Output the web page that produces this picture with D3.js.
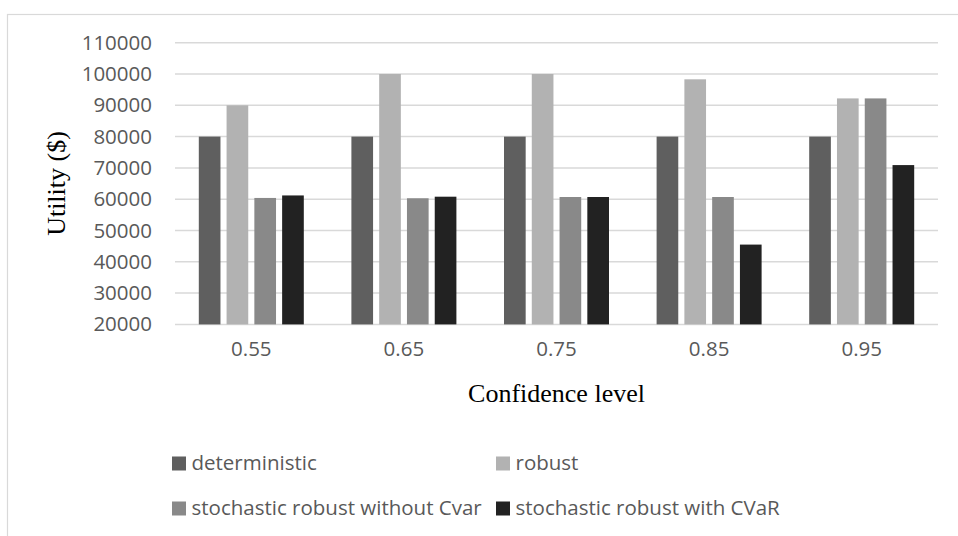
<!DOCTYPE html>
<html>
<head>
<meta charset="utf-8">
<script src="https://cdn.jsdelivr.net/npm/d3@7"></script>
<style>
  html, body { margin: 0; padding: 0; background: #fff; }
  svg { display: block; }
</style>
</head>
<body>
<div id="chart"></div>
<script>
const categories = ['0.55', '0.65', '0.75', '0.85', '0.95'];
const seriesNames = [
  'deterministic',
  'robust',
  'stochastic robust without Cvar',
  'stochastic robust with CVaR'
];
const deterministic = [80000, 80000, 80000, 80000, 80000];
const robust = [90000, 100000, 100000, 98300, 92200];
const stochNoCvar = [60400, 60300, 60700, 60700, 92200];
const stochCvar = [61200, 60800, 60700, 45500, 70900];
const yTicks = [20000, 30000, 40000, 50000, 60000, 70000, 80000, 90000, 100000, 110000];
const colors = ['#5f5f5f', '#b2b2b2', '#898989', '#222222'];

const seriesValues = [deterministic, robust, stochNoCvar, stochCvar];

const width = 958, height = 536;
const plot = { left: 175, right: 938, top: 42.7, bottom: 324.4 };

const svg = d3.select('#chart')
  .append('svg')
  .attr('width', width)
  .attr('height', height);

// outer frame
svg.append('rect')
  .attr('x', 7.5).attr('y', 14.5)
  .attr('width', 960).attr('height', 540)
  .attr('fill', 'none')
  .attr('stroke', '#d9d9d9')
  .attr('stroke-width', 1.2);

const x0 = d3.scaleBand()
  .domain(categories)
  .range([plot.left, plot.right]);

const x1 = d3.scaleBand()
  .domain(d3.range(seriesNames.length))
  .range([23.8, 23.8 + 105])
  .paddingInner(0.22);

const y = d3.scaleLinear()
  .domain([20000, 110000])
  .range([plot.bottom, plot.top]);

// gridlines
svg.append('g')
  .selectAll('line')
  .data(yTicks)
  .join('line')
  .attr('x1', plot.left).attr('x2', plot.right)
  .attr('y1', d => y(d)).attr('y2', d => y(d))
  .attr('stroke', '#d9d9d9')
  .attr('stroke-width', 1.5);

// y axis labels
const yAxis = svg.append('g')
  .attr('transform', `translate(${plot.left},0)`)
  .call(d3.axisLeft(y).tickValues(yTicks).tickSize(0).tickPadding(23).tickFormat(d3.format('d')));
yAxis.select('.domain').remove();
yAxis.selectAll('text')
  .attr('fill', '#595959')
  .style('font-family', '"Open Sans", sans-serif')
  .style('font-size', '20.5px');

// x axis labels
const xAxis = svg.append('g')
  .attr('transform', `translate(0,${plot.bottom})`)
  .call(d3.axisBottom(x0).tickSize(0).tickPadding(17));
xAxis.select('.domain').remove();
xAxis.selectAll('text')
  .attr('fill', '#595959')
  .style('font-family', '"Open Sans", sans-serif')
  .style('font-size', '20.5px');

// bars
const groups = svg.append('g')
  .selectAll('g')
  .data(categories)
  .join('g')
  .attr('transform', d => `translate(${x0(d)},0)`);

groups.selectAll('rect')
  .data((c, i) => seriesValues.map((vals, s) => ({ s, v: vals[i] })))
  .join('rect')
  .attr('x', d => x1(d.s))
  .attr('y', d => y(d.v))
  .attr('width', x1.bandwidth())
  .attr('height', d => y(20000) - y(d.v))
  .attr('fill', d => colors[d.s]);

// axis titles
svg.append('text')
  .attr('transform', `translate(65,183.5) rotate(-90)`)
  .attr('text-anchor', 'middle')
  .style('font-family', '"Liberation Serif", "Times New Roman", serif')
  .style('font-size', '26px')
  .attr('fill', '#000')
  .text('Utility ($)');

svg.append('text')
  .attr('x', (plot.left + plot.right) / 2)
  .attr('y', 402)
  .attr('text-anchor', 'middle')
  .style('font-family', '"Liberation Serif", "Times New Roman", serif')
  .style('font-size', '26px')
  .attr('fill', '#000')
  .text('Confidence level');

// legend
const legendPos = [
  { x: 172, y: 470 },
  { x: 496, y: 470 },
  { x: 172, y: 515 },
  { x: 496, y: 515 }
];
const legend = svg.append('g')
  .selectAll('g')
  .data(seriesNames)
  .join('g')
  .attr('transform', (d, i) => `translate(${legendPos[i].x},${legendPos[i].y})`);

legend.append('rect')
  .attr('x', 0).attr('y', -13.5)
  .attr('width', 14).attr('height', 14)
  .attr('fill', (d, i) => colors[i]);

legend.append('text')
  .attr('x', 19.5).attr('y', 0)
  .attr('fill', '#595959')
  .style('font-family', '"Open Sans", sans-serif')
  .style('font-size', '20.5px')
  .text(d => d);
</script>
</body>
</html>
